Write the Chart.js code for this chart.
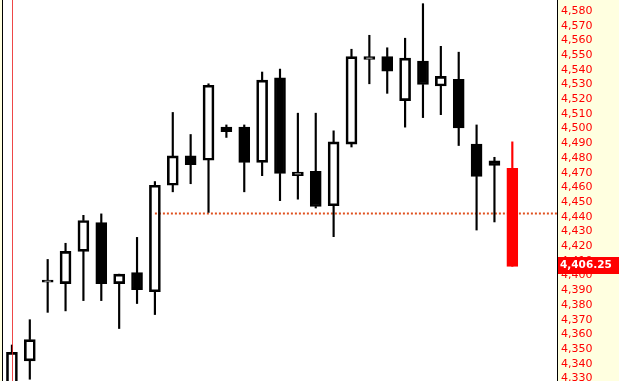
<!DOCTYPE html>
<html lang="en">
<head>
    <meta charset="UTF-8">
    <title>Candlestick Chart</title>
    <script src="https://cdn.jsdelivr.net/npm/chart.js"></script>
    <style>
        html, body { margin: 0; padding: 0; background: #ffffff; overflow: hidden; }
        canvas { display: block; }
    </style>
</head>
<body>
    <canvas id="priceChart" width="619" height="381"></canvas>

    <script>
        // Bars (two empty slots at the right edge)
        const categories = ['1', '2', '3', '4', '5', '6', '7', '8', '9', '10',
            '11', '12', '13', '14', '15', '16', '17', '18', '19', '20',
            '21', '22', '23', '24', '25', '26', '27', '28', '29', '', ''];

        const opens  = [4322, 4342, 4395.5, 4394.5, 4416.5, 4436, 4394.5, 4402, 4389, 4461.5,
            4481.5, 4478.5, 4501, 4501, 4477, 4534.5, 4468, 4471, 4447.5, 4489.5,
            4547, 4549, 4519, 4546, 4529, 4533.5, 4489.5, 4478, 4473];
        const highs  = [4352.8, 4370, 4411, 4422, 4441, 4442, 4401, 4426, 4464, 4511,
            4496, 4530.5, 4502.5, 4502.5, 4538.5, 4540.5, 4510.5, 4510.5, 4498.5, 4554,
            4563.5, 4555, 4561.5, 4585, 4556, 4552, 4502.5, 4480.5, 4491];
        const lows   = [4318, 4329.5, 4375, 4376, 4383, 4383, 4364, 4381, 4373.5, 4457,
            4462.5, 4443, 4494, 4457, 4468, 4451, 4452, 4446, 4426.5, 4487.5,
            4530.5, 4524, 4501, 4507.5, 4509.5, 4488.5, 4431, 4436.5, 4406.25];
        const closes = [4347.8, 4356.5, 4397, 4416.5, 4437.5, 4394.5, 4401, 4390.5, 4461.5, 4481.5,
            4475.5, 4529.5, 4498, 4477, 4533, 4469.5, 4470.5, 4447, 4491, 4549,
            4549, 4539, 4548, 4530, 4535.5, 4500.5, 4467.5, 4475, 4406.25];

        const tickValues = [4330, 4340, 4350, 4360, 4370, 4380, 4390, 4400, 4410, 4420,
            4430, 4440, 4450, 4460, 4470, 4480, 4490, 4500, 4510, 4520,
            4530, 4540, 4550, 4560, 4570, 4580];

        const refLevel = 4442.5;   // dotted level
        const refStart = 8;        // starts at this bar
        const markerBar = 0;       // red vertical marker
        const lastPrice = closes[closes.length - 1];

        const lastIdx = closes.length - 1;
        const bodyFill = closes.map((c, i) => i === lastIdx ? '#ff0000' : (c >= opens[i] ? 'rgba(0,0,0,0)' : '#000000'));
        const bodyLine = closes.map((c, i) => i === lastIdx ? '#ff0000' : '#000000');

        const font = "'DejaVu Sans', Verdana, sans-serif";

        // panels, borders, dotted level, marker line and price box
        const decorations = {
            id: 'decorations',
            beforeDraw(chart) {
                const { ctx, chartArea: a, width, height } = chart;
                ctx.save();
                ctx.fillStyle = '#ffffff';
                ctx.fillRect(0, 0, width, height);
                ctx.fillStyle = '#ffffe0';
                ctx.fillRect(a.right, 0, width - a.right, height);
                ctx.fillRect(0, 0, a.left, height);
                ctx.strokeStyle = '#000000';
                ctx.lineWidth = 1;
                ctx.beginPath();
                ctx.moveTo(a.left - 0.5, 0); ctx.lineTo(a.left - 0.5, height);
                ctx.moveTo(a.right + 0.5, 0); ctx.lineTo(a.right + 0.5, height);
                ctx.stroke();
                ctx.restore();
            },
            beforeDatasetsDraw(chart) {
                const { ctx, chartArea: a, scales } = chart;
                const y = Math.round(scales.y.getPixelForValue(refLevel)) + 0.5;
                const x0 = scales.x.getPixelForValue(refStart);
                ctx.save();
                ctx.strokeStyle = '#e0501e';
                ctx.lineWidth = 2;
                ctx.setLineDash([2, 2]);
                ctx.beginPath();
                ctx.moveTo(x0, y);
                ctx.lineTo(a.right, y);
                ctx.stroke();
                ctx.restore();
            },
            afterDraw(chart) {
                const { ctx, chartArea: a, scales, width } = chart;
                // vertical marker through the first bar
                const mx = Math.round(scales.x.getPixelForValue(markerBar)) + 0.5;
                ctx.save();
                ctx.strokeStyle = 'rgba(235, 40, 40, 0.85)';
                ctx.lineWidth = 1;
                ctx.beginPath();
                ctx.moveTo(mx, 0);
                ctx.lineTo(mx, a.bottom);
                ctx.stroke();
                // last price box
                const y = Math.round(scales.y.getPixelForValue(lastPrice));
                ctx.fillStyle = '#ff0000';
                ctx.fillRect(a.right + 1, y - 9, width - a.right - 1, 17);
                ctx.fillStyle = '#ffffff';
                ctx.font = 'bold 10.5px ' + font;
                ctx.textBaseline = 'middle';
                ctx.textAlign = 'left';
                ctx.fillText(lastPrice.toLocaleString('en-US', { minimumFractionDigits: 2 }), a.right + 3, y - 0.5);
                ctx.restore();
            }
        };

        const wickStyle = {
            backgroundColor: bodyLine,
            borderWidth: 0,
            barThickness: 1.5,
            grouped: false,
            order: 1
        };

        new Chart(document.getElementById('priceChart'), {
            type: 'bar',
            data: {
                labels: categories,
                datasets: [
                    {
                        label: 'Body',
                        data: opens.map((o, i) => [o, closes[i]]),
                        backgroundColor: bodyFill,
                        borderColor: bodyLine,
                        borderWidth: 2,
                        borderSkipped: false,
                        barThickness: 11,
                        grouped: false,
                        order: 0
                    },
                    Object.assign({
                        label: 'Upper wick',
                        data: highs.map((h, i) => [Math.max(opens[i], closes[i]), h])
                    }, wickStyle),
                    Object.assign({
                        label: 'Lower wick',
                        data: lows.map((l, i) => [l, Math.min(opens[i], closes[i])])
                    }, wickStyle)
                ]
            },
            options: {
                responsive: false,
                animation: false,
                layout: { padding: { left: 3, right: 0, top: 0, bottom: 0 } },
                plugins: { legend: { display: false }, tooltip: { enabled: false } },
                scales: {
                    x: { display: false },
                    y: {
                        position: 'right',
                        min: 4328.3,
                        max: 4587.5,
                        grid: { display: false, drawTicks: false },
                        border: { display: false },
                        afterBuildTicks: s => { s.ticks = tickValues.map(v => ({ value: v })); },
                        afterFit: s => { s.width = 62; s.paddingTop = 0; s.paddingBottom = 0; },
                        ticks: {
                            color: '#ff0000',
                            padding: 4,
                            autoSkip: false,
                            font: { family: font, size: 11 },
                            callback: v => v.toLocaleString('en-US')
                        }
                    }
                }
            },
            plugins: [decorations]
        });
    </script>
</body>
</html>
